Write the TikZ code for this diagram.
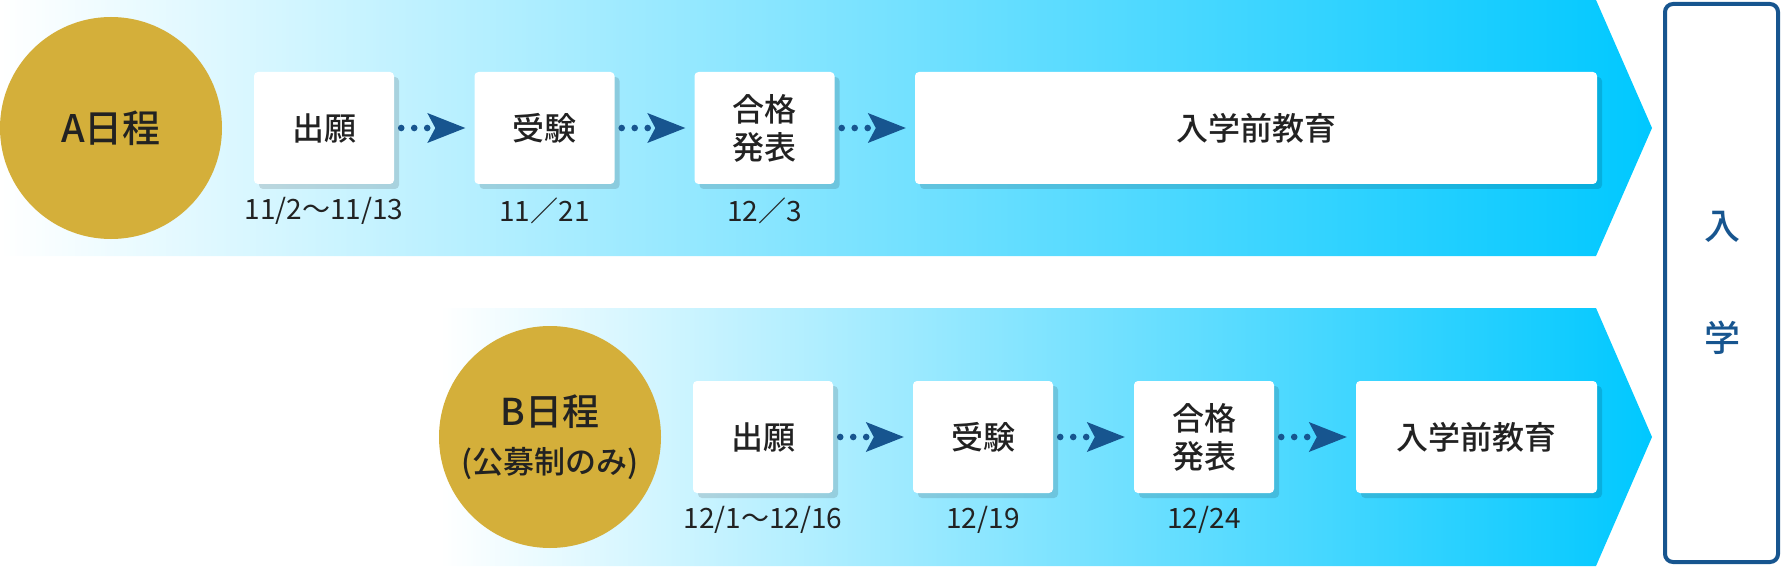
\documentclass[tikz,border=0pt]{standalone}
\usepackage{fontspec}
\setmainfont{Noto Sans CJK JP}[BoldFont={* Medium}]
\usetikzlibrary{arrows.meta,shadows}
\definecolor{gold}{HTML}{D4AF3A}
\definecolor{cyanend}{HTML}{00C8FF}
\definecolor{navy}{HTML}{17558F}
\definecolor{ink}{HTML}{222222}
\begin{document}
\begin{tikzpicture}[x=1pt,y=1pt,
  band/.style={left color=white, right color=cyanend, draw=none},
  phase/.style={circle, fill=gold, minimum size=222pt, inner sep=0pt, text=ink, align=center},
  stepbox/.style={fill=white, rounded corners=4pt, minimum width=140pt, minimum height=112pt,
    inner sep=0pt, font=\fontsize{32}{38}\selectfont\bfseries, text=ink, align=center,
    drop shadow={shadow xshift=5pt, shadow yshift=-5pt, opacity=0.13, fill=black}},
  datelbl/.style={font=\fontsize{28}{30}\selectfont, text=ink, anchor=center},
  conn/.style={navy, line width=6.6pt, line cap=round, dash pattern=on 0pt off 13pt,
    shorten <=7pt, shorten >=9pt, -{Stealth[length=38pt,width=30pt,inset=8pt,line width=0pt]}},
  nyubox/.style={draw=navy, line width=4pt, rounded corners=8pt, fill=white, minimum width=113pt, minimum height=558pt, inner sep=0pt},
  nyutext/.style={font=\fontsize{36}{40}\selectfont\bfseries, text=navy}
]
\useasboundingbox (0,0) rectangle (1782,566);
% bands
\path[band] (0,566) -- (1596,566) -- (1652,438) -- (1596,310) -- (0,310) -- cycle;
\path[band] (440,258) -- (1596,258) -- (1652,129) -- (1596,0) -- (440,0) -- cycle;
% circles
\node[phase, font=\fontsize{38}{42}\selectfont\bfseries] (A) at (111,438) {A日程};
\node[phase] (B) at (550,129) {{\fontsize{37}{40}\selectfont\bfseries B日程}\\[18pt]{\fontsize{31}{32}\selectfont\bfseries (公募制のみ)}};
% A row boxes
\node[stepbox] (a1) at (324,438) {出願};
\node[stepbox] (a2) at (544.5,438) {受験};
\node[stepbox] (a3) at (764.5,438) {合格\\発表};
\node[stepbox, minimum width=682pt] (a4) at (1256,438) {入学前教育};
% B row boxes
\node[stepbox] (b1) at (763,129) {出願};
\node[stepbox] (b2) at (983,129) {受験};
\node[stepbox] (b3) at (1204,129) {合格\\発表};
\node[stepbox, minimum width=241pt] (b4) at (1476.5,129) {入学前教育};
% connectors
\draw[conn] (a1.east) -- (a2.west);
\draw[conn] (a2.east) -- (a3.west);
\draw[conn] (a3.east) -- (a4.west);
\draw[conn] (b1.east) -- (b2.west);
\draw[conn] (b2.east) -- (b3.west);
\draw[conn] (b3.east) -- (b4.west);
% dates
\node[datelbl] (da1) at ([yshift=-27pt]a1.south) {11/2～11/13};
\node[datelbl] (da2) at ([yshift=-27pt]a2.south) {11／21};
\node[datelbl] (da3) at ([yshift=-27pt]a3.south) {12／3};
\node[datelbl] (db1) at ([yshift=-27pt]b1.south) {12/1～12/16};
\node[datelbl] (db2) at ([yshift=-27pt]b2.south) {12/19};
\node[datelbl] (db3) at ([yshift=-27pt]b3.south) {12/24};
% entrance box
\node[nyubox] (nyu) at (1721.5,283) {};
\node[nyutext] (nyu1) at (1722,339) {入};
\node[nyutext] (nyu2) at (1722,228) {学};
\end{tikzpicture}
\end{document}
